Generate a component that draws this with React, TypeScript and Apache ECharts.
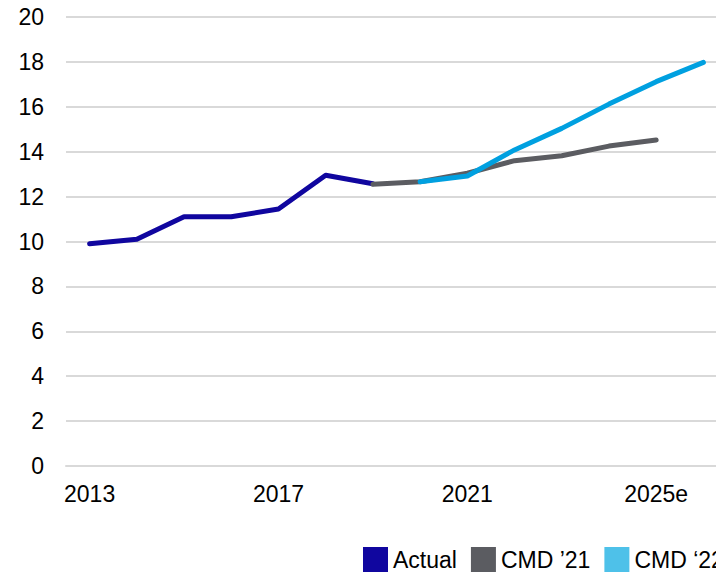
import React, { useEffect, useRef } from "react";
import * as echarts from "echarts";

const years = ["2013", "2014", "2015", "2016", "2017", "2018", "2019", "2020", "2021", "2022", "2023", "2024", "2025e", "2026e"];
const actual = [9.9, 10.1, 11.1, 11.1, 11.45, 12.95, 12.57, null, null, null, null, null, null, null];
const cmd21 = [null, null, null, null, null, null, 12.55, 12.66, 13.04, 13.6, 13.82, 14.25, 14.52, null];
const cmd22 = [null, null, null, null, null, null, null, 12.66, 12.92, 14.08, 15.04, 16.12, 17.12, 17.98];
const seriesNames = ["Actual", "CMD \u201921", "CMD \u201822"];

export default function App() {
  const ref = useRef<HTMLDivElement>(null);
  useEffect(() => {
    if (!ref.current) return;
    document.body.style.overflow = "hidden";
    const chart = echarts.init(ref.current, undefined, { renderer: "svg" });
    const font = "'Liberation Sans', Arial, sans-serif";
    const mk = (name: string, data: (number | null)[], lineColor: string, iconColor: string) => ({
      name,
      type: "line",
      data,
      showSymbol: false,
      symbol: "none",
      connectNulls: false,
      lineStyle: { color: lineColor, width: 5, cap: "round", join: "round" },
      itemStyle: { color: iconColor },
    });
    chart.setOption({
      animation: false,
      grid: { left: 66, right: 13, top: 17, bottom: 108, containLabel: false },
      legend: {
        left: 363,
        top: 547,
        padding: 0,
        icon: "rect",
        itemWidth: 25,
        itemHeight: 25,
        itemGap: 14,
        textStyle: { fontFamily: font, fontSize: 23, color: "#000" },
        data: seriesNames,
      },
      xAxis: {
        type: "category",
        data: years,
        boundaryGap: true,
        axisLine: { show: true, lineStyle: { color: "#D9D9D9", width: 2 } },
        axisTick: { show: false },
        axisLabel: { interval: 3, margin: 16, fontFamily: font, fontSize: 23, color: "#000" },
        splitLine: { show: false },
      },
      yAxis: {
        type: "value",
        min: 0,
        max: 20,
        interval: 2,
        axisLine: { show: false },
        axisTick: { show: false },
        axisLabel: { margin: 22, fontFamily: font, fontSize: 23, color: "#000" },
        splitLine: { lineStyle: { color: "#D9D9D9", width: 2 } },
      },
      series: [
        mk(seriesNames[0], actual, "#10069F", "#10069F"),
        mk(seriesNames[1], cmd21, "#5B5C61", "#5B5C61"),
        mk(seriesNames[2], cmd22, "#00A0E0", "#4EC1E9"),
      ],
    });
    return () => chart.dispose();
  }, []);
  return (
    <div style={{ position: "absolute", left: 0, top: 0, width: 716, height: 574, overflow: "hidden" }}>
      <div ref={ref} style={{ width: 740, height: 574 }} />
    </div>
  );
}
